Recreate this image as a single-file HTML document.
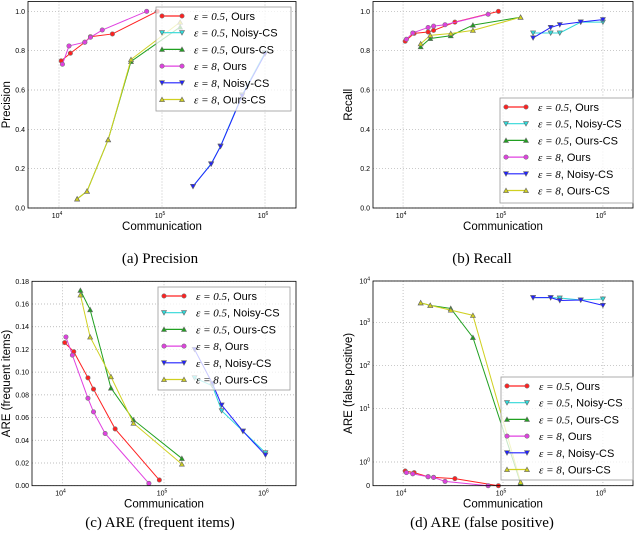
<!DOCTYPE html>
<html><head><meta charset="utf-8"><style>
body{margin:0;background:#fff;width:640px;height:545px;overflow:hidden}
svg{display:block}
.cap{font-family:"Liberation Serif",serif;font-size:15px}
</style></head><body>
<svg id="s" width="640" height="545">
<text class="cap" x="160" y="263" text-anchor="middle">(a) Precision</text>
<text class="cap" x="482" y="263" text-anchor="middle">(b) Recall</text>
<text class="cap" x="160" y="527" text-anchor="middle">(c) ARE (frequent items)</text>
<text class="cap" x="482" y="527" text-anchor="middle">(d) ARE (false positive)</text>
</svg>
<script>
// x values (communication) per series
const xOurs05=[1.05e4,1.29e4,1.78e4,2.02e4,3.3e4,9e4];
const xOurs8=[1.08e4,1.25e4,1.78e4,2.02e4,2.63e4,7.1e4];
const xOursCS=[1.5e4,1.87e4,3e4,5e4,1.5e5];
const xNoisy=[2e5,3e5,3.7e5,6e5,1e6];
const seriesNames=["ε = 0.5, Ours","ε = 0.5, Noisy-CS","ε = 0.5, Ours-CS","ε = 8, Ours","ε = 8, Noisy-CS","ε = 8, Ours-CS"];
// precision
const precOurs05=[0.748,0.787,0.843,0.871,0.885,1.0];
const precNoisy05=[0.11,0.225,0.315,0.575,0.79];
const precOursCS05=[0.046,0.085,0.347,0.745,0.92];
const precOurs8=[0.731,0.824,0.843,0.868,0.905,1.0];
const precNoisy8=[0.11,0.223,0.313,0.57,0.783];
const precOursCS8=[0.046,0.085,0.347,0.755,0.945];
// recall
const recOurs05=[0.848,0.888,0.895,0.903,0.945,1.0];
const recNoisy05=[0.89,0.89,0.89,0.945,0.945];
const recOursCS05=[0.82,0.862,0.876,0.93,0.97];
const recOurs8=[0.858,0.89,0.918,0.925,0.932,0.985];
const recNoisy8=[0.865,0.918,0.932,0.946,0.958];
const recOursCS8=[0.835,0.878,0.887,0.903,0.97];
// ARE frequent
const areOurs05=[0.126,0.118,0.095,0.085,0.05,0.005];
const areNoisy05=[0.095,0.088,0.066,0.048,0.029];
const areOursCS05=[0.172,0.155,0.086,0.058,0.024];
const areOurs8=[0.131,0.115,0.077,0.065,0.046,0.002];
const areNoisy8=[0.12,0.09,0.071,0.048,0.027];
const areOursCS8=[0.168,0.131,0.096,0.055,0.019];
// ARE false positive
const fpOurs05=[0.62,0.55,0.38,0.35,0.3,0.0];
const fpNoisy05=[4000,4000,3900,3500,3700];
const fpOursCS05=[3000,2600,2200,450,0.1];
const fpOurs8=[0.55,0.5,0.38,0.35,0.18,0.0];
const fpNoisy8=[4000,4000,3400,3500,2600];
const fpOursCS8=[3000,2600,2000,1500,0.15];
const linTicksA=[0,0.2,0.4,0.6,0.8,1.0];
const linTicksC=[0,0.02,0.04,0.06,0.08,0.1,0.12,0.14,0.16,0.18];
const fpTicks=[0,1,10,100,1000,10000];

const NS="http://www.w3.org/2000/svg";
const svg=document.getElementById('s');
function mk(tag,attrs,parent){const e=document.createElementNS(NS,tag);for(const k in attrs)e.setAttribute(k,attrs[k]);(parent||svg).appendChild(e);return e;}
const colors=["#ff2020","#30d8d8","#20a020","#e040e0","#2020ff","#d0d020"];
const markers=["o","v","^","o","v","^"];
function marker(g,m,x,y,c){
  let e;
  if(m==="o")e=mk('circle',{cx:x,cy:y,r:2.2,fill:c,stroke:"#777","stroke-width":0.6},g);
  else if(m==="v")e=mk('polygon',{points:`${x-2.5},${y-2.1} ${x+2.5},${y-2.1} ${x},${y+2.4}`,fill:c,stroke:"#666","stroke-width":0.6},g);
  else e=mk('polygon',{points:`${x-2.5},${y+2.1} ${x+2.5},${y+2.1} ${x},${y-2.4}`,fill:c,stroke:"#666","stroke-width":0.6},g);
  
  
}
function panel(P){
  const g=mk('g',{});
  
  
  const lx0=Math.log10(5e3),lx1=Math.log10(2e6);
  const X=v=>P.L+(Math.log10(v)-lx0)/(lx1-lx0)*(P.R-P.L);
  const Y=P.Y;
  [1e4,1e5,1e6].forEach((t,i)=>{
    const x=X(t);
    mk('line',{x1:x,x2:x,y1:P.T,y2:P.B,stroke:"#aaa","stroke-dasharray":"1,2","stroke-width":0.7},g);
    const tx=mk('text',{x:x-2,y:P.B+10,"font-size":7,"font-family":"Liberation Sans, sans-serif","text-anchor":"middle"},g);
    
    
    tx.textContent="10";
    const sp=mk('tspan',{dy:-3,"font-size":5},tx);sp.textContent=String(i+4);
  });
  P.yt.forEach((t,i)=>{
    const y=Y(t);
    mk('line',{x1:P.L,x2:P.R,y1:y,y2:y,stroke:"#aaa","stroke-dasharray":"1,2","stroke-width":0.7},g);
    const tx=mk('text',{x:P.L-3,y:y+2.5,"font-size":7,"font-family":"Liberation Sans, sans-serif","text-anchor":"end"},g);
    
    
    if(P.log){ if(t===0)tx.textContent="0"; else {tx.textContent="10";const sp=mk('tspan',{dy:-3,"font-size":5},tx);sp.textContent=String(Math.round(Math.log10(t)));} }
    else tx.textContent=t.toFixed(P.dec);
  });
  P.series.forEach((s,i)=>{
    const pts=s.x.map((xv,j)=>[X(xv),Y(s.y[j])]);
    const pl=mk('polyline',{points:pts.map(p=>p.join(',')).join(' '),fill:"none",stroke:colors[i],"stroke-width":1}, g);
    
    
    pts.forEach(p=>marker(g,markers[i],p[0],p[1],colors[i]));
  });
  const box=mk('rect',{x:P.L,y:P.T,width:P.R-P.L,height:P.B-P.T,fill:"none",stroke:"#000","stroke-width":0.8},g);
  
  
  const xl=mk('text',{x:(P.L+P.R)/2,y:P.B+22,"font-size":11.5,"font-family":"Liberation Sans, sans-serif","text-anchor":"middle"},g);
  
  
  xl.textContent="Communication";
  const yl=mk('text',{x:P.ylx,y:(P.T+P.B)/2,"font-size":11.5,"font-family":"Liberation Sans, sans-serif","text-anchor":"middle",transform:`rotate(-90 ${P.ylx} ${(P.T+P.B)/2})`},g);
  
  
  yl.textContent=P.ylabel;
  const lg=mk('g',{},g);
  
  
  mk('rect',{x:P.lg[0],y:P.lg[1],width:P.lg[2],height:P.lg[3],fill:"#fff","fill-opacity":0.75,stroke:"#999","stroke-width":0.8},lg);
  seriesNames.forEach((n,i)=>{
    const y=P.lg[1]+9+i*16.7, x=P.lg[0]+6;
    const e=mk('g',{},lg);
    
    
    mk('line',{x1:x,x2:x+20,y1:y,y2:y,stroke:colors[i],"stroke-width":1.2},e);
    marker(e,markers[i],x,y,colors[i]);marker(e,markers[i],x+20,y,colors[i]);
    const parts=n.split(', ');
    const t=mk('text',{x:x+32,y:y+4,"font-size":11,"font-family":"Liberation Sans, sans-serif"},e);
    const a=mk('tspan',{"font-family":"Liberation Serif, serif","font-style":"italic"},t);a.textContent=parts[0];
    const b=mk('tspan',{},t);b.textContent=", "+parts[1];
  });
}
function lin(T,B,max){return v=>B-(v/max)*(B-T);}
function mkSeries(a){return [{x:xOurs05,y:a[0]},{x:xNoisy,y:a[1]},{x:xOursCS,y:a[2]},{x:xOurs8,y:a[3]},{x:xNoisy,y:a[4]},{x:xOursCS,y:a[5]}];}
panel({id:"precision",L:28,R:296,T:1.5,B:208,Y:lin(1.5,208,1.05),yt:linTicksA,dec:1,ylabel:"Precision",ylx:10,lg:[156,7,135,104],
  series:mkSeries([precOurs05,precNoisy05,precOursCS05,precOurs8,precNoisy8,precOursCS8])});
panel({id:"recall",L:373,R:633,T:1.5,B:208,Y:lin(1.5,208,1.05),yt:linTicksA,dec:1,ylabel:"Recall",ylx:352,lg:[500,98,133,105],
  series:mkSeries([recOurs05,recNoisy05,recOursCS05,recOurs8,recNoisy8,recOursCS8])});
panel({id:"are-frequent",L:32,R:296,T:281.3,B:485.7,Y:lin(281.3,485.7,0.18),yt:linTicksC,dec:2,ylabel:"ARE (frequent items)",ylx:10,lg:[158,287,132,103],
  series:mkSeries([areOurs05,areNoisy05,areOursCS05,areOurs8,areNoisy8,areOursCS8])});
// symlog axis calibration: pixel y for log10 = 0..4
const fpDecadeY=[462,408.3,365.3,322.7,281];
const fpY=v=>{const B=485.7;if(v<=1)return B-v*(B-fpDecadeY[0]);const l=Math.min(4,Math.log10(v));const k=Math.min(3,Math.floor(l));return fpDecadeY[k]+(l-k)*(fpDecadeY[k+1]-fpDecadeY[k]);};
panel({id:"are-false-positive",L:373,R:633,T:281,B:485.7,Y:fpY,yt:fpTicks,log:true,ylabel:"ARE (false positive)",ylx:352,lg:[501,377,132,103],
  series:mkSeries([fpOurs05,fpNoisy05,fpOursCS05,fpOurs8,fpNoisy8,fpOursCS8])});
</script>
</body></html>
